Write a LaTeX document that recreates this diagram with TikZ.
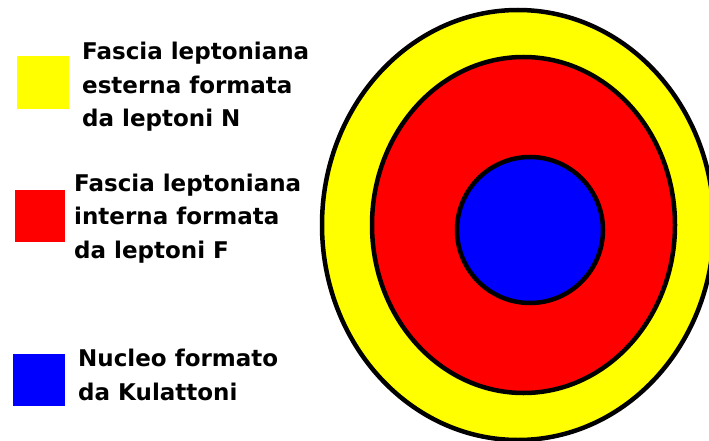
\documentclass[tikz,border=0pt]{standalone}
\usepackage{fontspec}
\setmainfont{DejaVu Sans}
\definecolor{cyel}{RGB}{255,255,0}
\definecolor{cred}{RGB}{255,0,0}
\definecolor{cblue}{RGB}{0,0,255}
\begin{document}
\begin{tikzpicture}[x=1pt,y=-1pt,
  ring/.style={draw=black,line width=4.5pt},
  legtext/.style={anchor=base west,inner sep=0pt,align=left,
    font=\fontsize{23}{33.5}\selectfont\bfseries}]
\useasboundingbox (0,0) rectangle (709,441);
\begin{scope}
\clip (0,0) rectangle (709,441);
\draw[ring,fill=cyel] (518,225) ellipse [x radius=196,y radius=215];
\draw[ring,fill=cred] (523.5,225) ellipse [x radius=151.5,y radius=168];
\draw[ring,fill=cblue] (530,230) ellipse [x radius=73,y radius=73];
\end{scope}
\fill[cyel] (17,56) rectangle (69,109);
\fill[cred] (15,190) rectangle (65,242);
\fill[cblue] (13,354) rectangle (65,406);
\node[legtext] (t1) at (82,127) {Fascia leptoniana\\esterna formata\\da leptoni N};
\node[legtext] (t2) at (74,258) {Fascia leptoniana\\interna formata\\da leptoni F};
\node[legtext] (t3) at (78,400) {Nucleo formato\\da Kulattoni};
\end{tikzpicture}
\end{document}
